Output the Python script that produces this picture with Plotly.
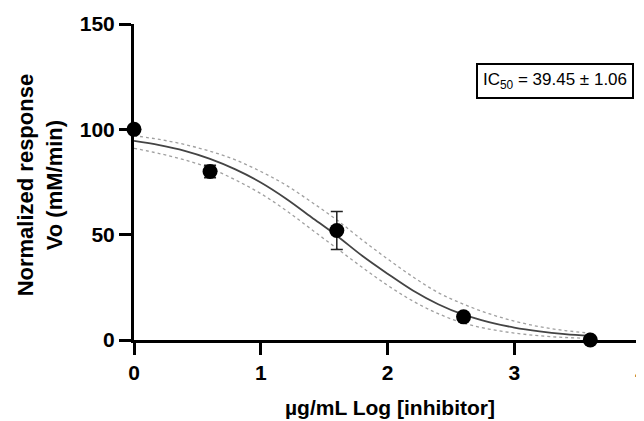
import plotly.graph_objects as go

# measured points
x_pts = [0.0, 0.6, 1.6, 2.6, 3.6]
y_pts = [100, 80, 52, 11, 0]
err_pts = [0, 3, 9, 0, 0]

# fitted curve and confidence bands
x_fit = [0.0, 0.2, 0.4, 0.6, 0.8, 1.0, 1.2, 1.4, 1.6, 1.8, 2.0, 2.2, 2.4, 2.6, 2.8, 3.0, 3.2, 3.4, 3.6]
y_fit = [94.5, 92.5, 89.8, 86.0, 81.0, 74.8, 67.1, 58.3, 49.5, 40.0, 31.5, 23.5, 17.0, 12.0, 8.5, 5.9, 4.1, 2.8, 1.9]
y_upper = [97.0, 95.2, 92.8, 89.6, 85.5, 80.0, 73.5, 65.5, 57.0, 47.5, 38.5, 30.0, 22.5, 17.0, 12.5, 9.0, 6.3, 4.5, 3.2]
y_lower = [91.0, 88.5, 85.5, 81.5, 76.0, 69.5, 61.5, 52.5, 43.5, 34.5, 26.0, 18.5, 12.5, 8.0, 5.2, 3.3, 2.0, 1.2, 0.8]

x_ticks = [0, 1, 2, 3, 4]
y_ticks = [0, 50, 100, 150]
x_title = "<b>µg/mL Log [inhibitor]</b>"
y_title = "<b>Normalized response<br>Vo (mM/min)</b>"
annotation_text = "IC<sub>50</sub> = 39.45 ± 1.06"

FONT = "Liberation Sans, Arial, sans-serif"

fig = go.Figure()
fig.add_trace(go.Scatter(x=x_fit, y=y_upper, mode="lines", line=dict(color="#a0a0a0", width=1.3, dash="dot", shape="spline"), hoverinfo="skip"))
fig.add_trace(go.Scatter(x=x_fit, y=y_lower, mode="lines", line=dict(color="#a0a0a0", width=1.3, dash="dot", shape="spline"), hoverinfo="skip"))
fig.add_trace(go.Scatter(x=x_fit, y=y_fit, mode="lines", line=dict(color="#444444", width=1.8, shape="spline")))
fig.add_trace(go.Scatter(
    x=x_pts, y=y_pts, mode="markers",
    marker=dict(color="black", size=15),
    error_y=dict(type="data", array=err_pts, visible=True, color="#222222", thickness=1.5, width=6),
    cliponaxis=False,
))

axis_common = dict(
    ticks="outside", ticklen=12, tickwidth=3, tickcolor="black",
    showline=True, linewidth=3, linecolor="black", showgrid=False, zeroline=False,
    tickfont=dict(family=FONT, size=21, color="black", weight="bold"),
    automargin=False,
)

# the page body adds an 8px offset, margins compensate for it
fig.update_layout(
    width=644, height=421,
    margin=dict(l=126, r=11, t=16, b=89),
    paper_bgcolor="white", plot_bgcolor="white",
    showlegend=False,
    font=dict(family=FONT, color="black"),
    xaxis=dict(range=[0, 4], tickvals=x_ticks, ticklabeloverflow="allow", **axis_common),
    yaxis=dict(range=[0, 150], tickvals=y_ticks, **axis_common),
    annotations=[
        dict(
            x=0.830, y=0.82, xref="paper", yref="paper", xanchor="center", yanchor="middle",
            text=annotation_text, showarrow=False,
            font=dict(family=FONT, size=17, color="black"),
            bordercolor="black", borderwidth=2, borderpad=5, bgcolor="white",
        ),
        dict(
            x=0.504, y=-0.213, xref="paper", yref="paper", xanchor="center", yanchor="middle",
            text=x_title, showarrow=False,
            font=dict(family=FONT, size=21, color="black"),
        ),
        dict(
            x=-0.185, y=0.49, xref="paper", yref="paper", xanchor="center", yanchor="middle",
            text=y_title, showarrow=False, textangle=-90,
            font=dict(family=FONT, size=22, color="black"),
        ),
    ],
)

fig.write_html("out.html")
